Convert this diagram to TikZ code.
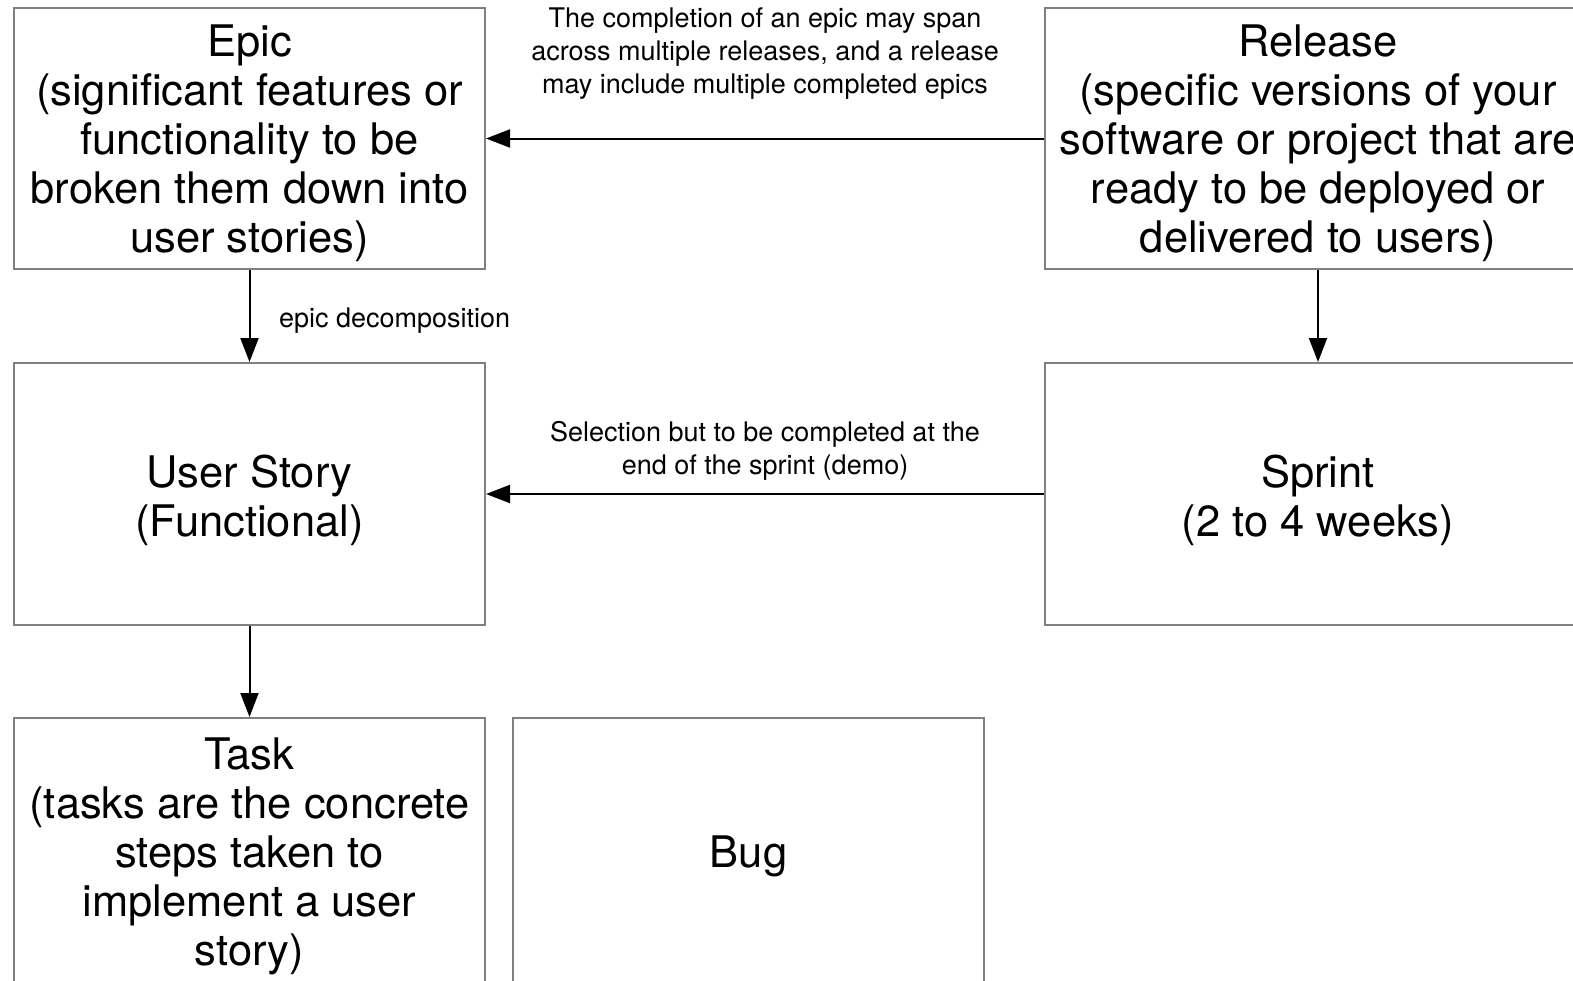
\documentclass[tikz,border=0pt]{standalone}
\usepackage{fontspec}
\setmainfont{TeX Gyre Heros}
\usetikzlibrary{arrows.meta}
\definecolor{boxgray}{RGB}{128,128,128}
\begin{document}
\begin{tikzpicture}[x=1pt,y=-1pt,
  box/.style={draw=boxgray, line width=2pt, fill=white, inner sep=0pt},
  txt/.style={align=center, font=\fontsize{43.5}{49}\selectfont, inner sep=0pt},
  arr/.style={line width=2pt, -{Triangle[length=24pt,width=18pt]}},
  lbl/.style={align=center, font=\fontsize{27}{33}\selectfont, inner sep=0pt}]
\useasboundingbox (0,0) rectangle (1573,980);
\clip (0,0) rectangle (1573,980);
\fill[white] (0,0) rectangle (1573,980);
\node[box, minimum width=471pt, minimum height=261pt] (epic) at (249.5,138.5) {};
\node[box, minimum width=546pt, minimum height=261pt] (release) at (1318,138.5) {};
\node[box, minimum width=471pt, minimum height=262pt] (story) at (249.5,494) {};
\node[box, minimum width=546pt, minimum height=262pt] (sprint) at (1318,494) {};
\node[box, minimum width=471pt, minimum height=280pt] (task) at (249.5,858) {};
\node[box, minimum width=471pt, minimum height=280pt] (bug) at (748.5,858) {};
\node[txt] (epic-t) at ([yshift=-5pt]epic.center)
  {Epic\\(significant features or\\functionality to be\\broken them down into\\user stories)};
\node[txt] (release-t) at ([yshift=-5pt]release.center)
  {Release\\(specific versions of your\\software or project that are\\ready to be deployed or\\delivered to users)};
\node[txt] (story-t) at ([yshift=-6pt]story.center) {User Story\\(Functional)};
\node[txt] (sprint-t) at ([yshift=-6pt]sprint.center) {Sprint\\(2 to 4 weeks)};
\node[txt] (task-t) at (249.5,856)
  {Task\\(tasks are the concrete\\steps taken to\\implement a user\\story)};
\node[txt] (bug-t) at (748.5,856) {Bug};
\draw[arr] (release) -- node[lbl, midway, yshift=85pt] (l1)
  {The completion of an epic may span\\across multiple releases, and a release\\may include multiple completed epics} (epic);
\draw[arr] (sprint) -- node[lbl, midway, yshift=43pt] (l2)
  {Selection but to be completed at the\\end of the sprint (demo)} (story);
\draw[arr] (epic) -- node[lbl, midway, anchor=west, xshift=28.5pt, yshift=-5pt] (l3)
  {epic decomposition} (story);
\draw[arr] (release) -- (sprint);
\draw[arr] (story) -- (task);
\end{tikzpicture}
\end{document}
